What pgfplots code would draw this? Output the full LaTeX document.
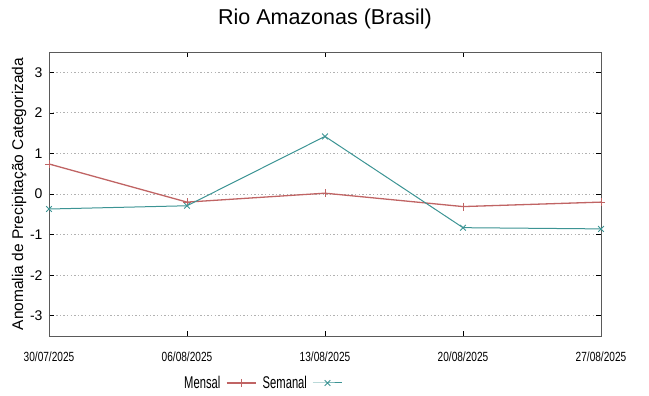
\documentclass[border=0pt]{standalone}
\usepackage{fontspec}
\setmainfont{Liberation Sans}
\newfontfamily\narrowfont[FakeStretch=0.76]{Liberation Sans}
\newfontfamily\legfont[FakeStretch=0.66]{Liberation Sans}
\usepackage{pgfplots}
\pgfplotsset{compat=1.18}
\definecolor{mred}{RGB}{192,100,100}
\definecolor{steal}{RGB}{60,148,148}
\definecolor{framegray}{RGB}{90,90,90}
\begin{document}
\begin{tikzpicture}[x=1pt,y=1pt]
\path[use as bounding box] (0,0) rectangle (649,396);
\begin{axis}[
  at={(49pt,60pt)}, anchor=south west,
  scale only axis, width=552pt, height=284pt,
  xmin=0, xmax=4, ymin=-3.5, ymax=3.5,
  xtick={0,1,2,3,4},
  xticklabels={30/07/2025,06/08/2025,13/08/2025,20/08/2025,27/08/2025},
  ytick={-3,-2,-1,0,1,2,3},
  yticklabels={-3,-2,-1,0,1,2,3},
  ymajorgrids,
  major grid style={dash pattern=on 1.4pt off 2.2pt, gray!60, line width=0.9pt},
  tick align=inside, major tick length=5pt,
  tick style={black, line width=0.6pt},
  axis line style={framegray, line width=0.9pt},
  xticklabel style={font=\narrowfont\fontsize{13.3}{15}\selectfont, anchor=center, yshift=-21pt},
  yticklabel style={font=\fontsize{14}{16}\selectfont, anchor=east, xshift=-3pt},
  title={Rio Amazonas (Brasil)},
  title style={font=\fontsize{21.5}{24}\selectfont, at={(axis description cs:0.5,1.095)}, anchor=center, yshift=0pt},
  ylabel={Anomalia de Precipitação Categorizada},
  ylabel style={font=\fontsize{15.5}{17}\selectfont, at={(axis description cs:-0.054,0.5)}, anchor=center},
  legend columns=2,
  legend plot pos=right,
  legend style={draw=none, fill=none, at={(axis description cs:0.2410,-0.1655)}, anchor=west,
    font=\legfont\fontsize{17}{19}\selectfont,
    /tikz/every odd column/.append style={column sep=3.5pt},
    /tikz/every even column/.append style={column sep=4.5pt},
    inner sep=0pt},
  legend image code/.code={\draw[mark repeat=2,mark phase=2] plot coordinates {(0pt,0pt)(14.5pt,0pt)(29pt,0pt)};},
]
\addplot[mred, line width=1.3pt, mark=+, mark size=4pt, mark options={line width=0.9pt}] coordinates {
(0,0.74) (1,-0.2) (2,0.02) (3,-0.31) (4,-0.2)};
\addlegendentry{Mensal}
\addplot[steal, line width=1pt, mark=x, mark size=4pt, mark options={line width=0.9pt}] coordinates {
(0,-0.37) (1,-0.29) (2,1.42) (3,-0.83) (4,-0.86)};
\addlegendentry{Semanal}
\end{axis}
\end{tikzpicture}
\end{document}
